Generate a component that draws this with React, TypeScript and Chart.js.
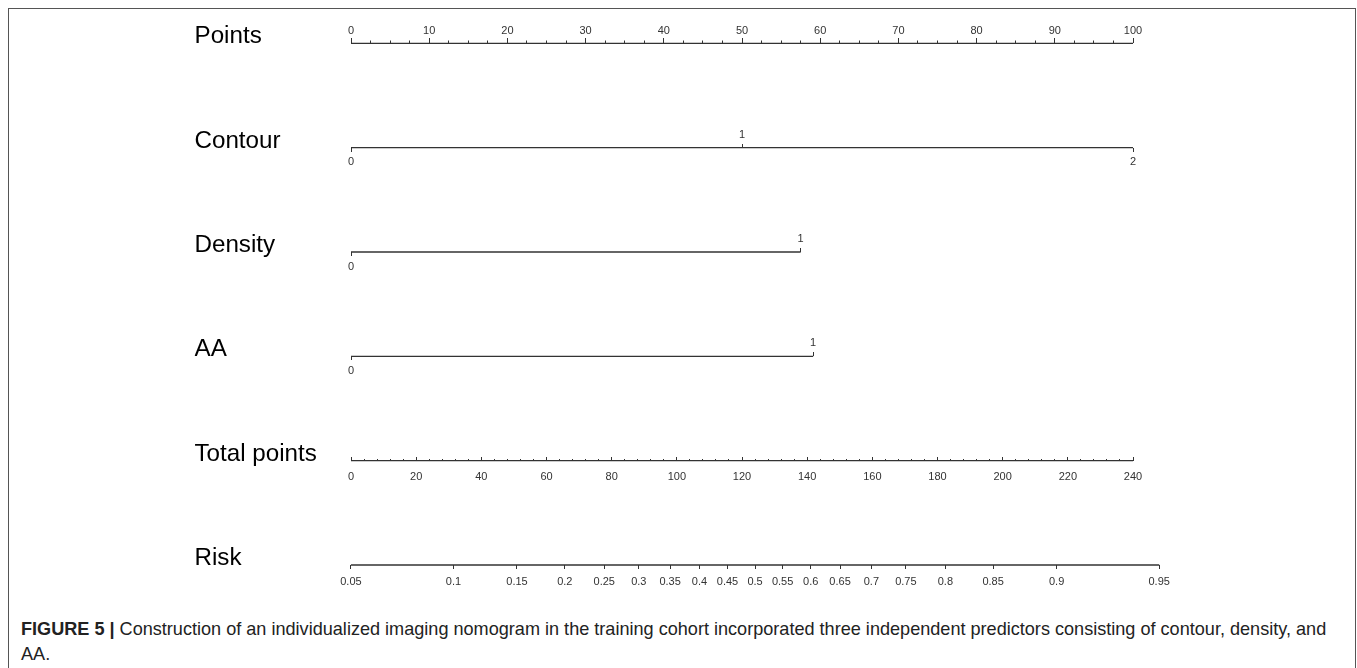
import React, { useEffect, useRef } from 'react';
import { Chart, registerables } from 'chart.js';

Chart.register(...registerables);

// ---- data ----
const rowNames = ['Points', 'Contour', 'Density', 'AA', 'Total points', 'Risk'];

const pointsTicks = [0, 10, 20, 30, 40, 50, 60, 70, 80, 90, 100];
const pointsMinorStep = 2.5;

const contourLevels = ['0', '1', '2'];
const contourPoints = [0, 50, 100];

const densityLevels = ['0', '1'];
const densityPoints = [0, 57.5];

const aaLevels = ['0', '1'];
const aaPoints = [0, 59.1];

const totalPointsTicks = [0, 20, 40, 60, 80, 100, 120, 140, 160, 180, 200, 220, 240];
const totalPointsMinorStep = 4;

const riskTicks = [0.05, 0.1, 0.15, 0.2, 0.25, 0.3, 0.35, 0.4, 0.45, 0.5, 0.55, 0.6, 0.65, 0.7, 0.75, 0.8, 0.85, 0.9, 0.95];
const riskLabels = ['0.05', '0.1', '0.15', '0.2', '0.25', '0.3', '0.35', '0.4', '0.45', '0.5', '0.55', '0.6', '0.65', '0.7', '0.75', '0.8', '0.85', '0.9', '0.95'];
const riskIntercept = -2.944; // logit(risk) at 0 total points
const riskSlope = 0.02374; // logit(risk) per total point

// ---- scale ranges / styling ----
const FONT = "'Liberation Sans', Arial, Helvetica, sans-serif";
const pointsMax = pointsTicks[pointsTicks.length - 1];
const totalMax = totalPointsTicks[totalPointsTicks.length - 1];
const tpAxisMax = 250; // right edge of the plotting area in total-point units
const ptsAxisMax = (tpAxisMax * pointsMax) / totalMax;
const INK = '#333';

const riskToTotal = (p: number) => (Math.log(p / (1 - p)) - riskIntercept) / riskSlope;

function rowAxis(
  row: number,
  max: number,
  values: number[],
  labels: string[] | null,
  tickLength: number,
  padding: number
) {
  return {
    type: 'linear',
    axis: 'x',
    position: { y: row },
    min: 0,
    max,
    bounds: 'data',
    border: { display: false },
    grid: {
      display: true,
      drawOnChartArea: false,
      drawTicks: true,
      tickLength,
      tickColor: INK,
      tickWidth: 1,
    },
    ticks: {
      autoSkip: false,
      maxRotation: 0,
      minRotation: 0,
      padding,
      color: INK,
      font: { family: FONT, size: 11 },
      callback: (_v: any, i: number) => (labels ? labels[i] : ''),
    },
    afterBuildTicks: (scale: any) => {
      scale.ticks = values.map((v) => ({ value: v }));
    },
  };
}

function levelAxes(id: string, row: number, levels: string[], pts: number[]) {
  const upIdx = levels.map((_, i) => i).filter((i) => i % 2 === 1);
  const downIdx = levels.map((_, i) => i).filter((i) => i % 2 === 0);
  return {
    [id + 'Up']: rowAxis(row, ptsAxisMax, upIdx.map((i) => pts[i]), upIdx.map((i) => levels[i]), -4, -15.6),
    [id + 'Down']: rowAxis(row, ptsAxisMax, downIdx.map((i) => pts[i]), downIdx.map((i) => levels[i]), 4, 4.2),
  };
}

function rowLine(xAxisID: string, x0: number, x1: number, row: number) {
  return {
    type: 'scatter',
    data: [
      { x: x0, y: row },
      { x: x1, y: row },
    ],
    xAxisID,
    yAxisID: 'y',
    showLine: true,
    borderColor: INK,
    borderWidth: 1.3,
    pointRadius: 0,
    clip: false,
  };
}

const pointsMinorTicks: number[] = [];
for (let v = 0; v <= pointsMax; v += pointsMinorStep) pointsMinorTicks.push(v);
const totalMinorTicks: number[] = [];
for (let v = 0; v <= totalMax; v += totalPointsMinorStep) totalMinorTicks.push(v);

export default function App() {
  const ref = useRef<HTMLCanvasElement>(null);

  useEffect(() => {
    if (!ref.current) return;
    const datasets: any[] = [
      rowLine('xPts', pointsTicks[0], pointsMax, 0),
      rowLine('xPts', Math.min(...contourPoints), Math.max(...contourPoints), 1),
      rowLine('xPts', Math.min(...densityPoints), Math.max(...densityPoints), 2),
      rowLine('xPts', Math.min(...aaPoints), Math.max(...aaPoints), 3),
      rowLine('xTP', totalPointsTicks[0], totalMax, 4),
      rowLine('xTP', riskToTotal(riskTicks[0]), riskToTotal(riskTicks[riskTicks.length - 1]), 5),
    ];

    const scales: any = {
      y: {
        type: 'linear',
        axis: 'y',
        position: 'left',
        reverse: true,
        min: -0.3,
        max: 5.3,
        border: { display: false },
        grid: { display: false },
        ticks: {
          autoSkip: false,
          crossAlign: 'far',
          labelOffset: -6.5,
          padding: 0,
          color: '#000',
          font: { family: FONT, size: 24.2 },
          callback: (_v: any, i: number) => rowNames[i],
        },
        afterBuildTicks: (scale: any) => {
          scale.ticks = rowNames.map((_, i) => ({ value: i }));
        },
        afterFit: (scale: any) => {
          scale.width = 156.5;
          scale.paddingTop = 0;
          scale.paddingBottom = 0;
        },
      },
      xPts: rowAxis(0, ptsAxisMax, pointsTicks, pointsTicks.map(String), -5, -14.1),
      xPtsMinor: rowAxis(0, ptsAxisMax, pointsMinorTicks, null, -2.5, 0),
      ...levelAxes('xContour', 1, contourLevels, contourPoints),
      ...levelAxes('xDensity', 2, densityLevels, densityPoints),
      ...levelAxes('xAA', 3, aaLevels, aaPoints),
      xTP: rowAxis(4, tpAxisMax, totalPointsTicks, totalPointsTicks.map(String), -4, 13.4),
      xTPMinor: rowAxis(4, tpAxisMax, totalMinorTicks, null, -2, 0),
      xRisk: rowAxis(5, tpAxisMax, riskTicks.map(riskToTotal), riskLabels, 4, 6.1),
    };

    const chart = new Chart(ref.current, {
      type: 'scatter',
      data: { datasets },
      options: {
        responsive: false,
        animation: false,
        events: [],
        plugins: { legend: { display: false }, tooltip: { enabled: false } },
        layout: { padding: { left: 185.5, right: 189.4, top: 3.0, bottom: 12.7 } },
        scales,
      },
    } as any);
    return () => chart.destroy();
  }, []);

  return (
    <div
      style={{
        position: 'fixed',
        left: 8,
        top: 8,
        width: 1348,
        height: 690,
        boxSizing: 'border-box',
        border: '1px solid #555',
        background: '#fff',
        fontFamily: FONT,
      }}
    >
      <canvas ref={ref} width={1346} height={600} style={{ display: 'block', width: 1346, height: 600 }} />
      <div style={{ margin: '8px 13px 0 12px', fontSize: 18.1, lineHeight: '25px', color: '#222' }}>
        <b>FIGURE 5 |</b> Construction of an individualized imaging nomogram in the training cohort incorporated three
        independent predictors consisting of contour, density, and AA.
      </div>
    </div>
  );
}
